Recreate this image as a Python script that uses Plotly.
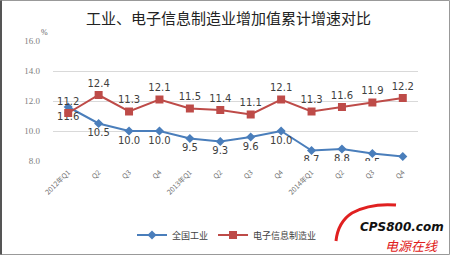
import plotly.graph_objects as go

categories = ["2012年Q1", "Q2", "Q3", "Q4", "2013年Q1", "Q2", "Q3", "Q4",
              "2014年Q1", "Q2", "Q3", "Q4"]
industry = [11.6, 10.5, 10.0, 10.0, 9.5, 9.3, 9.6, 10.0, 8.7, 8.8, 8.5, 8.3]
electronics = [11.2, 12.4, 11.3, 12.1, 11.5, 11.4, 11.1, 12.1, 11.3, 11.6, 11.9, 12.2]
y_ticks = [8.0, 10.0, 12.0, 14.0, 16.0]

W, H = 450, 255
L, R, T, B = 53, 32, 41, 94
PW, PH = W - L - R, H - T - B

def px(x):
    return (x - L) / PW

def py(y):
    return (H - B - y) / PH

xs = list(range(len(categories)))

fig = go.Figure()
fig.add_trace(go.Scatter(
    x=xs, y=industry, name="全国工业", mode="lines+markers+text",
    line=dict(color="#4A7EBB", width=2),
    marker=dict(symbol="diamond", size=7, color="#4A7EBB"),
    text=[f"{v:.1f}" for v in industry], textposition="bottom center",
    textfont=dict(family="DejaVu Sans", size=10, color="#404040"),
))
fig.add_trace(go.Scatter(
    x=xs, y=electronics, name="电子信息制造业", mode="lines+markers+text",
    line=dict(color="#BE4B48", width=2),
    marker=dict(symbol="square", size=8, color="#BE4B48"),
    text=[f"{v:.1f}" for v in electronics], textposition="top center",
    textfont=dict(family="DejaVu Sans", size=10, color="#404040"),
))

fig.update_layout(
    width=W, height=H,
    margin=dict(l=L, r=R, t=T, b=B, autoexpand=False),
    paper_bgcolor="white", plot_bgcolor="white",
    showlegend=True,
    legend=dict(orientation="h", xref="container", yref="container",
                x=227 / W, xanchor="center", y=1 - 235 / H, yanchor="middle",
                font=dict(family="Noto Sans CJK SC", size=9, color="#404040"),
                itemwidth=30, bgcolor="rgba(0,0,0,0)"),
    xaxis=dict(
        tickmode="array", tickvals=xs, ticktext=categories, tickangle=-45,
        range=[-0.5, len(categories) - 0.5], automargin=False,
        showgrid=False, zeroline=False, showline=False, ticklabelstandoff=5,
        tickfont=dict(family="Noto Sans CJK SC", size=7, color="#707070"),
    ),
    yaxis=dict(
        range=[8, 16], tickvals=y_ticks, ticktext=[f"{v:.1f}" for v in y_ticks],
        showgrid=True, gridcolor="#d9d9d9", gridwidth=1, zeroline=False,
        showline=False, ticklabelstandoff=12, automargin=False,
        tickfont=dict(family="Liberation Serif", size=9, color="#808080"),
    ),
)

annotations = [
    dict(text="工业、电子信息制造业增加值累计增速对比", x=px(228), y=py(17),
         font=dict(family="Noto Sans CJK SC", size=15, color="#222222")),
    dict(text="%", x=px(44), y=py(32),
         font=dict(family="Liberation Serif", size=8, color="#666666")),
    dict(text="<b><i>CPS800.com</i></b>", x=px(402), y=py(227),
         font=dict(family="DejaVu Sans", size=12, color="#111111")),
    dict(text="<i>电源在线</i>", x=px(411), y=py(245),
         font=dict(family="Noto Sans CJK SC", size=13, color="#E02020")),
]
for a in annotations:
    a.update(xref="paper", yref="paper", showarrow=False, xanchor="center", yanchor="middle")
fig.update_layout(annotations=annotations)

# swoosh of the watermark
path = "M {:.4f},{:.4f} Q {:.4f},{:.4f} {:.4f},{:.4f} Q {:.4f},{:.4f} {:.4f},{:.4f}".format(
    px(336), py(241), px(338), py(222), px(352), py(213),
    px(370), py(203), px(396), py(205))
shapes = [
    dict(type="path", path=path, xref="paper", yref="paper",
         line=dict(color="#E02020", width=3)),
    dict(type="rect", xref="paper", yref="paper", x0=px(0.5), x1=px(449.5),
         y0=py(254.5), y1=py(0.5), line=dict(color="#999999", width=1)),
    dict(type="line", xref="paper", yref="paper", x0=px(1), x1=px(1),
         y0=py(254.5), y1=py(0.5), line=dict(color="#555555", width=2)),
]
fig.update_layout(shapes=shapes)

fig.write_html("out.html")
